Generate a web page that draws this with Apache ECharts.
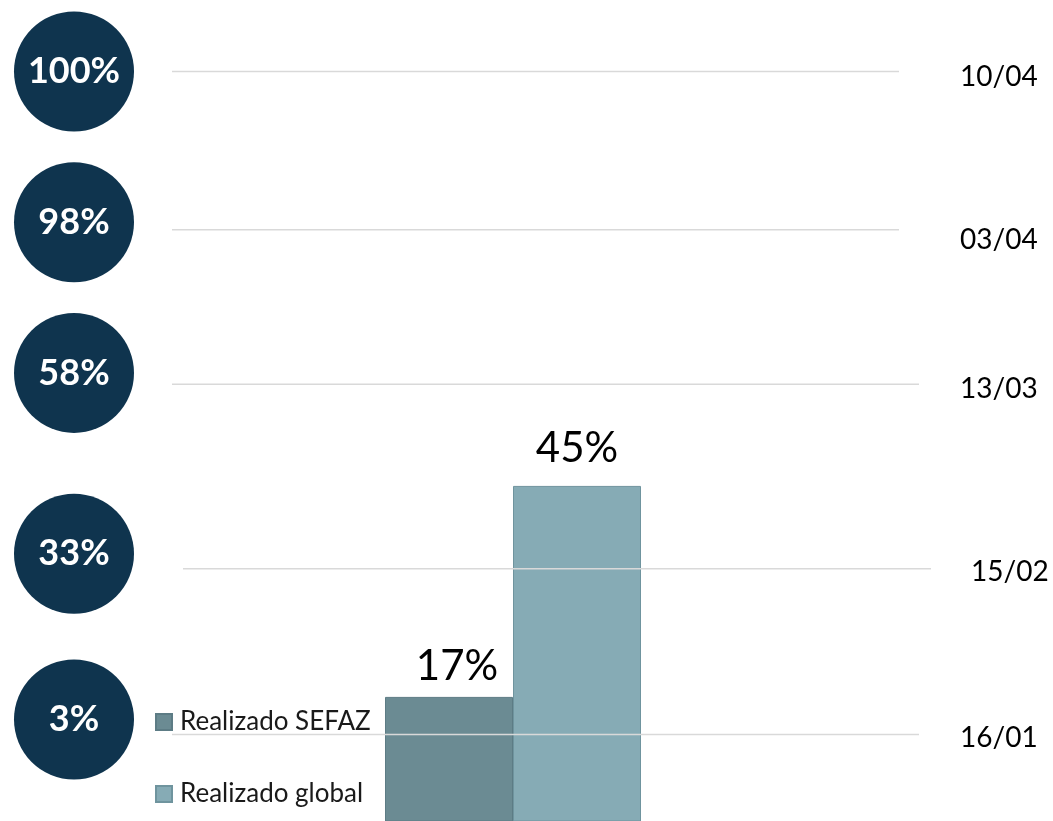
<!DOCTYPE html>
<html><head><meta charset="utf-8">
<script src="https://cdn.jsdelivr.net/npm/echarts@6/dist/echarts.min.js"></script>
<style>html,body{margin:0;padding:0;background:#fff}#c{width:1053px;height:821px}</style>
</head><body><div id="c"></div>
<script>
// ---- data ----
const categories = ['Realizado'];
const seriesNames = ['Realizado SEFAZ', 'Realizado global'];
const sefazValues = [17];
const globalValues = [45];
const milestonePct = ['100%', '98%', '58%', '33%', '3%'];
const milestoneDates = ['10/04', '03/04', '13/03', '15/02', '16/01'];
const circleLevel = [100, 80, 60, 36, 14];
const lineLevel = [100, 79, 58.5, 34, 12];
const dateLevel = [99.3, 77.6, 57.9, 33.6, 11.5];

// ---- layout / style ----
const LINE_SPAN = [[172, 899], [172, 899], [172, 919], [183, 931], [172, 919]];
const DATE_X = [960, 960, 960, 971, 960];
const CIRCLE_X = 74, CIRCLE_R = 60;
const FONT = 'Lato';

const chart = echarts.init(document.getElementById('c'), null, { renderer: 'canvas' });
const option = {
  animation: false,
  backgroundColor: '#ffffff',
  grid: { left: 385, right: 412, top: 71.5, bottom: 0, containLabel: false },
  xAxis: { type: 'category', data: categories, show: false },
  yAxis: { type: 'value', min: 0.53, max: 100, show: false },
  legend: {
    data: seriesNames, orient: 'vertical', left: 155, top: 709, padding: 0,
    itemWidth: 16, itemHeight: 16, itemGap: 46, icon: 'rect',
    textStyle: { fontFamily: FONT, fontSize: 26, color: '#1a1a1a', lineHeight: 24, padding: [0, 0, 0, 3] }
  },
  series: [
    {
      name: seriesNames[0], type: 'bar', data: sefazValues, barWidth: 128, barGap: '0%',
      itemStyle: { color: '#6b8b93', borderColor: '#5d7c85', borderWidth: 1 },
      label: { show: true, position: 'top', formatter: '{c}%', fontFamily: FONT, fontSize: 42, color: '#000', offset: [8, -4] }
    },
    {
      name: seriesNames[1], type: 'bar', data: globalValues, barWidth: 128,
      itemStyle: { color: '#86abb5', borderColor: '#6f949e', borderWidth: 1 },
      label: { show: true, position: 'top', formatter: '{c}%', fontFamily: FONT, fontSize: 42, color: '#000', offset: [0, -11] }
    },
    {
      type: 'custom', z: 3, clip: false,
      data: lineLevel.map((v) => [0, v]),
      renderItem: function (params, api) {
        const i = params.dataIndex;
        const yLine = api.coord([0, lineLevel[i]])[1];
        const yCircle = api.coord([0, circleLevel[i]])[1];
        const yDate = api.coord([0, dateLevel[i]])[1];
        return {
          type: 'group',
          children: [
            { type: 'line', shape: { x1: LINE_SPAN[i][0], y1: yLine, x2: LINE_SPAN[i][1], y2: yLine },
              style: { stroke: '#d9d9d9', lineWidth: 1.5 } },
            { type: 'circle', shape: { cx: CIRCLE_X, cy: yCircle, r: CIRCLE_R }, style: { fill: '#0f344e' } },
            { type: 'text', style: { text: milestonePct[i], x: CIRCLE_X, y: yCircle, align: 'center', verticalAlign: 'middle',
              fill: '#ffffff', fontFamily: FONT, fontWeight: 'bold', fontSize: 36 } },
            { type: 'text', style: { text: milestoneDates[i], x: DATE_X[i], y: yDate, align: 'left', verticalAlign: 'middle',
              fill: '#000000', fontFamily: FONT, fontSize: 28 } }
          ]
        };
      }
    }
  ]
};
chart.setOption(option);
</script>
</body></html>
